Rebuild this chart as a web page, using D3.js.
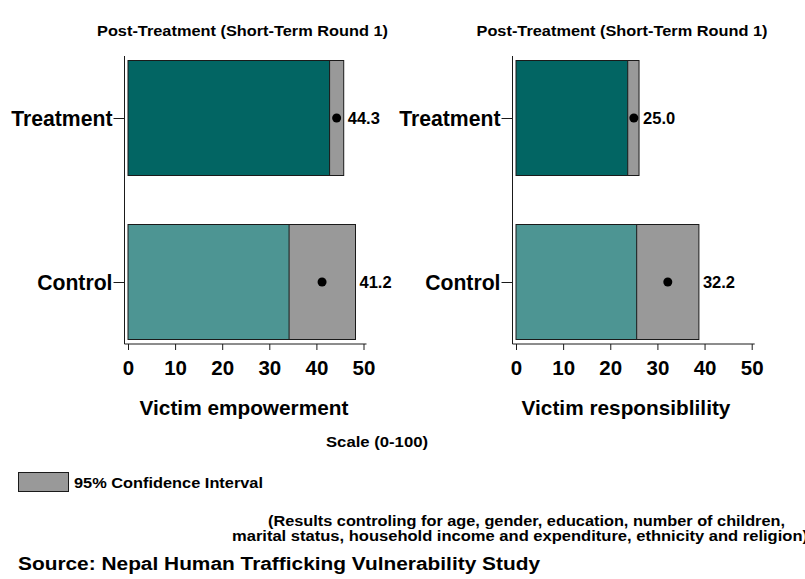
<!DOCTYPE html>
<html>
<head>
<meta charset="utf-8">
<script src="https://cdn.jsdelivr.net/npm/d3@7"></script>
<style>
  html, body { margin: 0; padding: 0; background: #fff; }
  svg { display: block; font-family: "Liberation Sans", Arial, Helvetica, sans-serif; font-weight: bold; }
</style>
</head>
<body>
<svg id="chart" width="805" height="579"></svg>
<script>
// Groups shown on each panel
const groups = ["Treatment", "Control"];

// Panel titles and outcome names
const panelTitles = ["Post-Treatment (Short-Term Round 1)", "Post-Treatment (Short-Term Round 1)"];
const outcomes = ["Victim empowerment", "Victim responsiblility"];

// Point estimates per outcome (Treatment, Control)
const empowermentMean = [44.3, 41.2];
const responsibilityMean = [25.0, 32.2];

// 95% confidence interval bounds per outcome (Treatment, Control)
const empowermentLow = [42.8, 34.2];
const empowermentHigh = [45.8, 48.3];
const responsibilityLow = [23.7, 25.6];
const responsibilityHigh = [26.1, 38.8];

// Axis ticks
const xTicks = [0, 10, 20, 30, 40, 50];

const panels = [
  { title: panelTitles[0], outcome: outcomes[0], mean: empowermentMean, lo: empowermentLow, hi: empowermentHigh,
    x0: 128, x1: 363.5, axisX: 124.5, titleX: 242.5, outcomeX: 244 },
  { title: panelTitles[1], outcome: outcomes[1], mean: responsibilityMean, lo: responsibilityLow, hi: responsibilityHigh,
    x0: 516, x1: 751.7, axisX: 512.5, titleX: 622, outcomeX: 626 }
];

const barColors = ["#026563", "#4d9593"];
const ciColor = "#999999";
const edge = "#1a1a1a";

const svg = d3.select("#chart");

const y = d3.scalePoint().domain(groups).range([118, 282]);
const barH = 115;
const axisY = 344;

// text helper: the chart font runs a little wide, so long labels get a set width
function label(sel, x, yy, size, txt, width, anchor) {
  const t = sel.append("text")
    .attr("x", x).attr("y", yy)
    .attr("text-anchor", anchor || "start")
    .style("font-size", size + "px")
    .text(txt);
  if (width) t.attr("textLength", width).attr("lengthAdjust", "spacingAndGlyphs");
  return t;
}

panels.forEach(p => {
  const x = d3.scaleLinear().domain([0, 50]).range([p.x0, p.x1]);
  const g = svg.append("g");

  // panel title
  label(g, p.titleX, 36, 15.5, p.title, 291, "middle");

  // bars: point estimate, then the CI box on top
  groups.forEach((grp, i) => {
    const cy = y(grp);
    g.append("rect")
      .attr("x", x(0)).attr("y", cy - barH / 2)
      .attr("width", x(p.mean[i]) - x(0)).attr("height", barH)
      .attr("fill", barColors[i]).attr("stroke", edge).attr("stroke-width", 1);
    g.append("rect")
      .attr("x", x(p.lo[i])).attr("y", cy - barH / 2)
      .attr("width", x(p.hi[i]) - x(p.lo[i])).attr("height", barH)
      .attr("fill", ciColor).attr("stroke", edge).attr("stroke-width", 1);
    g.append("circle")
      .attr("cx", x(p.mean[i])).attr("cy", cy).attr("r", 4.5)
      .attr("fill", "#000");
    label(g, x(p.hi[i]) + 4, cy + 6, 16.5, p.mean[i].toFixed(1));
  });

  // y axis
  const yAxis = d3.axisLeft(y).tickSize(11).tickPadding(1);
  const ya = g.append("g").attr("transform", `translate(${p.axisX},0)`).call(yAxis);
  ya.select(".domain").remove();
  ya.selectAll(".tick line").attr("stroke", edge);
  ya.selectAll(".tick text")
    .attr("fill", "#000")
    .attr("dy", "0.35em")
    .style("font-size", "21.2px")
    .style("font-family", "'Liberation Sans', Arial, sans-serif")
    .style("font-weight", "bold");
  g.append("line")
    .attr("x1", p.axisX).attr("x2", p.axisX)
    .attr("y1", 56).attr("y2", axisY)
    .attr("stroke", edge).attr("stroke-width", 1);

  // x axis
  const xAxis = d3.axisBottom(x).tickValues(xTicks).tickSize(6).tickPadding(6);
  const xa = g.append("g").attr("transform", `translate(0,${axisY})`).call(xAxis);
  xa.select(".domain").remove();
  xa.selectAll(".tick line").attr("stroke", edge);
  xa.selectAll(".tick text")
    .attr("fill", "#000")
    .attr("dy", "0.95em")
    .style("font-size", "20.5px")
    .style("font-family", "'Liberation Sans', Arial, sans-serif")
    .style("font-weight", "bold");
  g.append("line")
    .attr("x1", p.axisX).attr("x2", p.x1 + 3)
    .attr("y1", axisY).attr("y2", axisY)
    .attr("stroke", edge).attr("stroke-width", 1);

  // outcome title
  label(g, p.outcomeX, 415, 20.8, p.outcome, null, "middle");
});

// shared scale note
label(svg, 326, 447, 15, "Scale (0-100)", 102);

// legend
svg.append("rect")
  .attr("x", 18.5).attr("y", 472.5).attr("width", 50).attr("height", 19)
  .attr("fill", ciColor).attr("stroke", edge).attr("stroke-width", 1);
label(svg, 74, 488, 15.5, "95% Confidence Interval", 189);

// notes
label(svg, 268, 526, 14.5, "(Results controling for age, gender, education, number of children,", 517);
label(svg, 232, 541, 14.5, "marital status, household income and expenditure, ethnicity and religion)", 576);
label(svg, 18, 570, 18, "Source: Nepal Human Trafficking Vulnerability Study", 522);
</script>
</body>
</html>
